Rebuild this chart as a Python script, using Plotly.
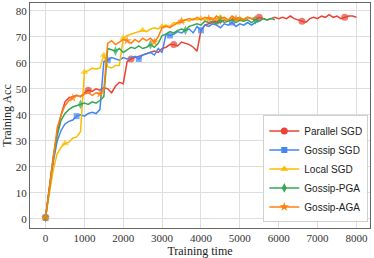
import plotly.graph_objects as go

# ---- data ----
series_names = ["Parallel SGD", "Gossip SGD", "Local SGD", "Gossip-PGA", "Gossip-AGA"]

step = 100
parallel_sgd = [0.5, 12, 24, 33, 40, 45, 46.5, 47, 47.5, 47, 48.5, 49.5, 49, 50, 49.5, 50.5, 50, 48.5, 51, 52.5,
                52, 60.5, 61.5, 62, 62.5, 63, 63.5, 64, 64.5, 64, 65.5, 66, 67, 67, 66.5, 68, 67.5, 67, 66, 64.5,
                72.5, 74.5, 75, 75.5, 76, 75.5, 76.5, 76, 77, 76.5, 77, 76.5, 77.5, 77, 76.5, 77.5, 77, 76.5, 77, 77.5,
                77, 77.5, 77, 78, 77, 76.5, 76, 75.5, 77, 77.5, 77, 78, 77.5, 78.5, 77.5, 78, 77, 77.5, 78, 78, 77.5]
gossip_sgd = [0.5, 11, 22, 30, 34, 36.5, 37.5, 38, 39.5, 40, 39.5, 40.5, 41, 40.5, 42, 60.5, 61, 62, 61.5, 61,
              62, 61.5, 62, 62.5, 61.5, 63, 63.5, 64, 63, 65.5, 64, 71, 70.5, 71, 72, 71.5, 72.5, 73, 71.5, 74,
              72.5, 74.5, 74, 75, 74.5, 73.5, 75, 74.5, 75.5, 74, 75, 74.5, 75.5, 74.5, 75.5, 76]
local_sgd = [0.5, 10, 19, 25, 27.5, 29, 29.5, 31, 31.5, 33.5, 56.5, 57, 58, 57.5, 58, 63, 58.5, 58, 59, 59,
             69.5, 70.5, 71, 71.5, 72, 72.5, 72, 73, 73.5, 73, 74, 74.5, 74, 75.5, 75, 76, 76.5, 76, 77, 76.5,
             77, 76.5, 77.5, 77, 76.5, 77.5, 77, 76, 77.5, 77, 76.5, 77, 77.5]
gossip_pga = [0.5, 12, 23, 32, 38, 40.5, 42, 43, 43.5, 44, 44.5, 44, 45, 44.5, 45.5, 47, 65.5, 65, 64.5, 65.5,
              64, 65, 66, 65.5, 66.5, 65.5, 66, 67, 66, 67.5, 70.5, 71, 72, 71.5, 72.5, 73, 72.5, 74, 74.5, 75,
              74.5, 76, 75.5, 76, 75, 76.5, 75.5, 76, 76.5, 75.5, 76.5, 76, 76.5, 75.5, 76.5, 76, 77, 76.5, 77, 76.5]
gossip_aga = [0.5, 12, 25, 35, 40, 43.5, 45.5, 46.5, 47.5, 47, 48, 48.5, 47.5, 48.5, 48, 49.5, 67.5, 68.5, 67, 68,
              69, 68.5, 67.5, 69, 68, 69.5, 68.5, 69.5, 68, 70, 73.5, 74, 73.5, 74.5, 75.5, 76, 76.5, 77, 76.5, 77.5,
              76.5, 77.5, 77, 76.5, 78, 77, 77.5, 76.5, 78, 77, 77.5, 76.5, 77.5, 77, 77.5]

series_values = [parallel_sgd, gossip_sgd, local_sgd, gossip_pga, gossip_aga]
marker_every = [11, 8, 5, 9, 7]

x_ticks = [0, 1000, 2000, 3000, 4000, 5000, 6000, 7000, 8000]
y_ticks = [0, 10, 20, 30, 40, 50, 60, 70, 80]

# ---- styling ----
colors = ["#EA4335", "#4285F4", "#FBBC05", "#34A853", "#FF7F0E"]
symbols = ["circle", "square", "triangle-up", "diamond-tall", "star"]
msizes = [7, 6, 7, 7, 7]

fig = go.Figure()
for name, vals, every, col, sym, ms in zip(series_names, series_values, marker_every, colors, symbols, msizes):
    xs = [i * step for i in range(len(vals))]
    sizes = [ms if i % every == 0 else 0 for i in range(len(vals))]
    fig.add_trace(go.Scatter(
        x=xs, y=vals, name=name, mode="lines+markers", legendgroup=name, showlegend=False,
        line=dict(color=col, width=1.5),
        marker=dict(symbol=sym, size=sizes, color=col, line=dict(width=0)),
    ))
    # legend entry (line + marker sample)
    fig.add_trace(go.Scatter(
        x=[None], y=[None], name=name, mode="lines+markers", legendgroup=name, showlegend=True,
        line=dict(color=col, width=1.5),
        marker=dict(symbol=sym, size=ms, color=col, line=dict(width=0)),
    ))

serif = "Liberation Serif, Times New Roman, serif"
fig.update_layout(
    width=374, height=258,
    margin=dict(l=30, r=4, t=3, b=30, autoexpand=False),
    paper_bgcolor="white", plot_bgcolor="white",
    font=dict(family=serif, size=11, color="#333"),
    showlegend=True,
    legend=dict(
        x=0.995, y=0.025, xanchor="right", yanchor="bottom",
        bgcolor="rgba(255,255,255,0.9)", bordercolor="#d0d0d0", borderwidth=1,
        font=dict(family="Liberation Sans, Arial, sans-serif", size=10, color="#222"),
        itemwidth=30, tracegroupgap=0,
    ),
)
fig.update_xaxes(
    range=[-400, 8350], tickvals=x_ticks, ticktext=[str(v) for v in x_ticks],
    showgrid=True, gridcolor="#dedede", gridwidth=1, zeroline=False,
    showline=True, linecolor="#666", linewidth=1.3, mirror=True, automargin=False,
    ticks="", title=dict(text="Training time", standoff=2, font=dict(family=serif, size=12, color="#222")),
    tickfont=dict(family=serif, size=11, color="#333"),
)
fig.update_yaxes(
    range=[-3.5, 83], tickvals=y_ticks, ticktext=[str(v) for v in y_ticks],
    showgrid=True, gridcolor="#dedede", gridwidth=1, zeroline=False,
    showline=True, linecolor="#666", linewidth=1.3, mirror=True, automargin=False,
    ticks="", title=dict(text="Training Acc", standoff=2, font=dict(family=serif, size=12, color="#222")),
    tickfont=dict(family=serif, size=11, color="#333"),
)

fig.write_html(
    "out.html",
    config={"displayModeBar": False},
    post_script="document.body.style.margin='0';document.body.style.padding='0';document.body.style.overflow='hidden';",
)
